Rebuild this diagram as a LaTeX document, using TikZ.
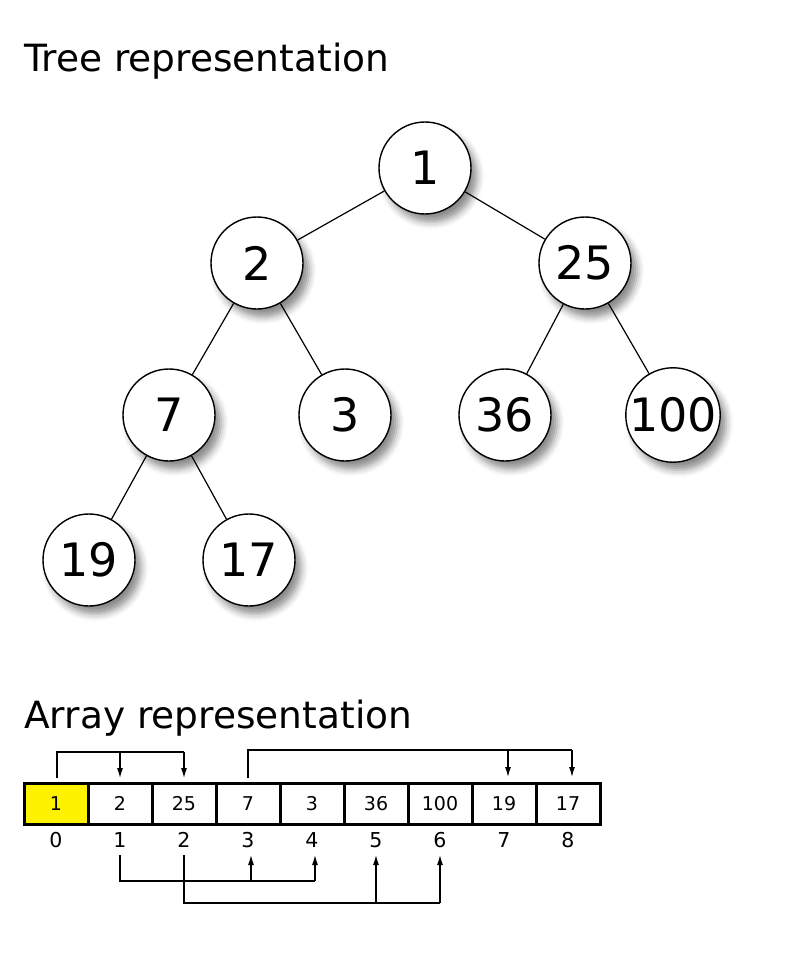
\documentclass[tikz,border=0pt]{standalone}
\usepackage{fontspec}
\setmainfont{DejaVu Sans}
\usetikzlibrary{arrows.meta,shadows.blur}
\begin{document}
\begin{tikzpicture}[x=1pt,y=-1pt,
  treenode/.style={circle, draw, line width=1.4pt, fill=white, minimum size=92pt, inner sep=0pt,
    font=\fontsize{46}{50}\selectfont,
    blur shadow={shadow xshift=6pt, shadow yshift=-8pt, shadow blur radius=7pt, shadow opacity=45}},
  edge/.style={line width=1.2pt},
  cell/.style={draw, line width=3pt, minimum width=64pt, minimum height=41pt, inner sep=0pt,
    font=\fontsize{19}{22}\selectfont},
  idx/.style={font=\fontsize{20.5}{24}\selectfont, inner sep=0pt},
  title/.style={font=\fontsize{37.5}{42}\selectfont, inner sep=0pt, anchor=base west},
  link/.style={line width=1.2pt},
  tip/.style={link, -{Latex[length=10pt,width=6pt]}}]
\useasboundingbox (0,0) rectangle (800,960);

% titles
\node[title] (ttree) at (24,72) {Tree representation};
\node[title] (tarr) at (24,728) {Array representation};

% heap as a tree
\node[treenode] (n1) at (425,168) {1};
\node[treenode] (n2) at (257,263) {2};
\node[treenode] (n25) at (585,263) {25};
\node[treenode] (n7) at (169,415) {7};
\node[treenode] (n3) at (345,415) {3};
\node[treenode] (n36) at (505,415) {36};
\node[treenode] (n100) at (673,415) {100};
\node[treenode] (n19) at (89,560) {19};
\node[treenode] (n17) at (249,560) {17};

\draw[edge] (n1) -- (n2);
\draw[edge] (n1) -- (n25);
\draw[edge] (n2) -- (n7);
\draw[edge] (n2) -- (n3);
\draw[edge] (n25) -- (n36);
\draw[edge] (n25) -- (n100);
\draw[edge] (n7) -- (n19);
\draw[edge] (n7) -- (n17);

% heap as an array
\foreach \v [count=\i from 0] in {1,2,25,7,3,36,100,19,17} {
  \node[cell] (c\i) at (56+64*\i,803.5) {\v};
  \node[idx] (i\i) at (56+64*\i,840) {\i};
}
\node[cell, fill=yellow] (c0) at (56,803.5) {1};

% parent to children links, upper side
\coordinate (u0) at (57,778);
\coordinate (u0t) at (57,752);
\coordinate (u2t) at (184,752);
\coordinate (u1t) at (120,752);
\coordinate (u1) at (120,778);
\coordinate (u2) at (184,778);
\draw[link] (u0) -- (u0t) -- (u2t);
\draw[tip] (u1t) -- (u1);
\draw[tip] (u2t) -- (u2);

\coordinate (u3) at (248,778);
\coordinate (u3t) at (248,750);
\coordinate (u8t) at (572,750);
\coordinate (u7t) at (508,750);
\coordinate (u7) at (508,777);
\coordinate (u8) at (572,777);
\draw[link] (u3) -- (u3t) -- (u8t);
\draw[tip] (u7t) -- (u7);
\draw[tip] (u8t) -- (u8);

% parent to children links, lower side
\coordinate (d1) at (120,855);
\coordinate (d1b) at (120,881);
\coordinate (d4b) at (315,881);
\coordinate (d3b) at (251,881);
\coordinate (d3) at (251,855);
\coordinate (d4) at (315,855);
\draw[link] (d1) -- (d1b) -- (d4b);
\draw[tip] (d3b) -- (d3);
\draw[tip] (d4b) -- (d4);

\coordinate (d2) at (184,855);
\coordinate (d2b) at (184,903);
\coordinate (d6b) at (440,903);
\coordinate (d5b) at (376,903);
\coordinate (d5) at (376,855);
\coordinate (d6) at (440,855);
\draw[link] (d2) -- (d2b) -- (d6b);
\draw[tip] (d5b) -- (d5);
\draw[tip] (d6b) -- (d6);
\end{tikzpicture}
\end{document}
